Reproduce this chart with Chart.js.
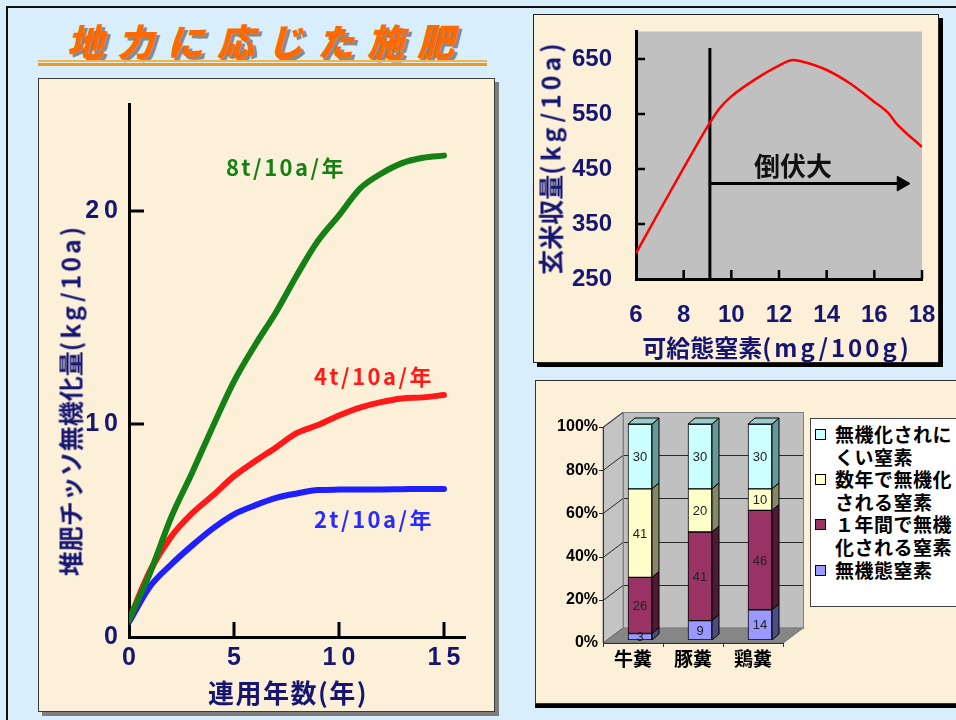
<!DOCTYPE html>
<html lang="ja">
<head>
<meta charset="utf-8">
<title>地力に応じた施肥</title>
<script src="https://cdn.jsdelivr.net/npm/chart.js@4.4.1/dist/chart.umd.min.js"></script>
<style>
  html, body { margin:0; padding:0; }
  body { width:956px; height:720px; overflow:hidden; position:relative; background:#d8eefb;
         font-family:"Noto Sans CJK JP", "Noto Sans", sans-serif; }
  .frame { position:absolute; left:6px; top:6px; width:990px; height:760px; border:2px solid #111; box-sizing:border-box; }
  .title { position:absolute; left:67px; top:16px; font-size:37px; line-height:48px; font-weight:900; font-style:italic;
           color:#ff6a00; letter-spacing:13px; text-shadow:3px 3px 0 #8a8a8a; white-space:nowrap; }
  .rule { position:absolute; left:38px; width:449px; }
  .panel { position:absolute; background:#fcf1d8; box-sizing:border-box; }
  #p1 { left:38px; top:78px; width:457px; height:634px; border:1px solid #3a3a3a; box-shadow:4px 4px 0 #7d7d7d; }
  #p2 { left:533px; top:14px; width:406px; height:349px; border:1px solid #222; box-shadow:4px 4px 0 #000; }
  #p3 { left:535px; top:380px; width:440px; height:324px; border:1px solid #333; box-shadow:0 4px 0 #000; }
  canvas { position:absolute; }
  .lbl { position:absolute; transform:translate(-50%,-50%); white-space:nowrap; font-weight:700; line-height:1; }
  .rot { transform:translate(-50%,-50%) rotate(-90deg); }
  .navy { color:#161672; }
  .sp { letter-spacing:3px; }
  #legend { position:absolute; left:810px; top:418px; width:170px; height:189px; box-sizing:border-box;
            background:#fff; border:1px solid #444; padding:4px 0 0 4px; }
  .item { display:flex; align-items:flex-start; }
  .sw { width:11px; height:11px; box-sizing:border-box; border:1px solid #000; margin-top:6px; margin-right:9px; flex:none; }
  .txt { width:121px; font-size:19px; line-height:22.6px; font-weight:700; letter-spacing:0.5px; color:#000; }
</style>
</head>
<body>
<div class="frame"></div>
<div class="title">地力に応じた施肥</div>
<div class="rule" style="top:60px;height:2px;background:#f6b443"></div>
<div class="rule" style="top:63px;height:3px;background:#f09a1c"></div>

<div class="panel" id="p1"></div>
<div class="panel" id="p2"></div>
<div class="panel" id="p3"></div>

<canvas id="c1" width="457" height="634" style="left:38px;top:78px"></canvas>
<canvas id="c2" width="406" height="349" style="left:533px;top:14px"></canvas>
<canvas id="c3" width="421" height="324" style="left:535px;top:380px"></canvas>

<!-- axis titles and in-plot labels -->
<div class="lbl navy rot" style="left:70px;top:400px;font-size:25px">堆肥チッソ無機化量<span class="sp">(kg/10a)</span></div>
<div class="lbl navy" style="left:288px;top:692px;font-size:26px;letter-spacing:1.5px">連用年数(年)</div>
<div class="lbl" style="left:286px;top:166px;font-size:22px;letter-spacing:2.5px;color:#158015">8t/10a/年</div>
<div class="lbl" style="left:374px;top:375px;font-size:22px;letter-spacing:2.5px;color:#ff1a1a">4t/10a/年</div>
<div class="lbl" style="left:374px;top:518px;font-size:22px;letter-spacing:2.5px;color:#2a2aff">2t/10a/年</div>

<div class="lbl navy rot" style="left:550px;top:157px;font-size:25px">玄米収量<span style="letter-spacing:4px">(kg/10a)</span></div>
<div class="lbl navy" style="left:777px;top:347px;font-size:24px">可給態窒素<span style="letter-spacing:3px">(mg/100g)</span></div>
<div class="lbl" style="left:793px;top:165px;font-size:26px;color:#111">倒伏大</div>

<div id="legend"></div>

<script>
const NAVY = '#161672';
const ARIAL = "'Liberation Sans', Arial, sans-serif";
const CJK = "'Noto Sans CJK JP', sans-serif";

// --- 堆肥チッソ無機化量 (kg/10a) vs 連用年数 ---
const years = [0, 1, 2, 3, 4, 5, 6, 7, 8, 9, 10, 11, 12, 13, 14, 15];
const min8t = [0.8, 3.0, 5.6, 7.7, 9.9, 12.0, 13.7, 15.25, 17.0, 18.6, 19.8, 21.05, 21.75, 22.25, 22.5, 22.6];
const min4t = [0.8, 3.1, 4.7, 5.8, 6.65, 7.55, 8.25, 8.9, 9.58, 9.95, 10.4, 10.77, 11.03, 11.2, 11.25, 11.36];
const min2t = [0.7, 2.37, 3.4, 4.29, 5.1, 5.76, 6.18, 6.53, 6.74, 6.9, 6.92, 6.93, 6.93, 6.94, 6.95, 6.95];
const yearTicks = [0, 5, 10, 15];
const minTicks = [0, 10, 20];

// --- 玄米収量 vs 可給態窒素 ---
const availN = [6, 7, 8, 8.5, 9, 9.5, 10, 11, 12, 12.6, 13, 14, 15, 16, 16.6, 16.9, 18];
const riceYield = [297, 375, 452, 490, 527, 560, 582, 613, 638, 648, 645, 630, 605, 572, 551, 534, 490];
const lodgingX = [9.1, 9.1];          // 倒伏の境界
const lodgingY = [250, 670];
const arrowX = [9.1, 17.14];
const arrowY = [423.5, 423.5];
const nTicks = [6, 8, 10, 12, 14, 16, 18];
const yieldTicks = [250, 350, 450, 550, 650];

// --- 窒素の形態別割合 (%) ---
const manures = ['牛糞', '豚糞', '鶏糞'];
const inorganicN = [3, 9, 14];
const firstYearN = [26, 41, 46];
const fewYearsN = [41, 20, 10];
const resistantN = [30, 30, 30];
const formLabels = ['無機態窒素', '１年間で無機化される窒素', '数年で無機化される窒素', '無機化されにくい窒素'];
const formColors = ['#9999ff', '#993366', '#ffffcc', '#ccffff'];
const formSides  = ['#4d4d80', '#4d1a33', '#868668', '#669999'];
const pctTicks = [0, 20, 40, 60, 80, 100];

const pts = (xs, ys) => xs.map((x, i) => ({ x, y: ys[i] }));
const spaced = v => String(v).split('').join('\u2009');
const fixTicks = vals => s => { s.ticks = vals.map(v => ({ value: v })); };
const fitY = w => s => { s.width = w; s.paddingTop = 0; s.paddingBottom = 0; };
const fitX = h => s => { s.height = h; s.paddingLeft = 0; s.paddingRight = 0; };

// tick marks pointing into the plot area
const innerTicks = {
  id: 'innerTicks',
  beforeDatasetsDraw(chart, args, o) {
    const { ctx, chartArea: a, scales } = chart;
    ctx.save();
    ctx.strokeStyle = '#000';
    ctx.lineWidth = o.width;
    ctx.beginPath();
    o.x.forEach(v => { const px = scales.x.getPixelForValue(v); ctx.moveTo(px, a.bottom); ctx.lineTo(px, a.bottom - o.length); });
    o.y.forEach(v => { const py = scales.y.getPixelForValue(v); ctx.moveTo(a.left, py); ctx.lineTo(a.left + o.length, py); });
    ctx.stroke();
    ctx.restore();
  }
};

const plotBg = {
  id: 'plotBg',
  beforeDraw(chart, args, o) {
    const { ctx, chartArea: a } = chart;
    ctx.save();
    ctx.fillStyle = o.color;
    ctx.fillRect(a.left, a.top, a.right - a.left, a.bottom - a.top);
    ctx.restore();
  }
};

const common = {
  responsive: false,
  animation: false,
  plugins: { legend: { display: false }, tooltip: { enabled: false } }
};

new Chart(document.getElementById('c1'), {
  type: 'line',
  data: {
    datasets: [
      { data: pts(years, min8t), borderColor: '#158015' },
      { data: pts(years, min4t), borderColor: '#ff1a1a' },
      { data: pts(years, min2t), borderColor: '#1f1fff' }
    ].map(d => Object.assign(d, { borderWidth: 6, pointRadius: 0, cubicInterpolationMode: 'monotone', borderCapStyle: 'round' }))
  },
  options: Object.assign({}, common, {
    layout: { padding: { left: 0, top: 26.5, right: 30, bottom: 0 } },
    scales: {
      x: {
        type: 'linear', min: 0, max: 16,
        afterBuildTicks: fixTicks(yearTicks), afterFit: fitX(75),
        grid: { drawOnChartArea: false, drawTicks: false },
        border: { color: '#000', width: 3 },
        ticks: { font: { family: ARIAL, size: 25, weight: 'bold' }, color: NAVY, padding: 6, callback: spaced, maxRotation: 0, autoSkip: false }
      },
      y: {
        type: 'linear', min: 0, max: 25,
        afterBuildTicks: fixTicks(minTicks), afterFit: fitY(91),
        grid: { drawOnChartArea: false, drawTicks: false },
        border: { color: '#000', width: 3 },
        ticks: { font: { family: ARIAL, size: 25, weight: 'bold' }, color: NAVY, padding: 11, callback: spaced }
      }
    },
    plugins: Object.assign({}, common.plugins, { innerTicks: { x: [5, 10, 15], y: [10, 20], length: 15, width: 3 } })
  }),
  plugins: [innerTicks]
});

new Chart(document.getElementById('c2'), {
  type: 'line',
  data: {
    datasets: [
      { data: pts(availN, riceYield), borderColor: '#ff0000', borderWidth: 2.5, pointRadius: 0, cubicInterpolationMode: 'monotone' },
      { data: pts(lodgingX, lodgingY), borderColor: '#000', borderWidth: 3, pointRadius: 0 },
      { data: pts(arrowX, arrowY), borderColor: '#000', borderWidth: 3, pointRadius: [0, 8.5],
        pointStyle: 'triangle', pointRotation: 90, pointBackgroundColor: '#000', pointBorderWidth: 1 }
    ]
  },
  options: Object.assign({}, common, {
    layout: { padding: { left: 0, top: 17.5, right: 17, bottom: 0 } },
    scales: {
      x: {
        type: 'linear', min: 6, max: 18,
        afterBuildTicks: fixTicks(nTicks), afterFit: fitX(84),
        grid: { drawOnChartArea: false, drawTicks: false },
        border: { color: '#000', width: 3 },
        ticks: { font: { family: ARIAL, size: 24, weight: 'bold' }, color: NAVY, padding: 22, maxRotation: 0, autoSkip: false }
      },
      y: {
        type: 'linear', min: 250, max: 700,
        afterBuildTicks: fixTicks(yieldTicks), afterFit: fitY(103),
        grid: { drawOnChartArea: false, drawTicks: false },
        border: { color: '#000', width: 3 },
        ticks: { font: { family: ARIAL, size: 24, weight: 'bold' }, color: NAVY, padding: 24 }
      }
    },
    plugins: Object.assign({}, common.plugins, {
      plotBg: { color: '#c0c0c0' },
      innerTicks: { x: [8, 10, 12, 14, 16, 18], y: [350, 450, 550, 650], length: 9, width: 2.5 }
    })
  }),
  plugins: [plotBg, innerTicks]
});

// pseudo-3D stacked columns: walls and floor, then side/top faces of each bar
function poly(ctx, p, fill, stroke) {
  ctx.beginPath();
  ctx.moveTo(p[0][0], p[0][1]);
  for (let i = 1; i < p.length; i++) ctx.lineTo(p[i][0], p[i][1]);
  ctx.closePath();
  ctx.fillStyle = fill; ctx.fill();
  if (stroke) { ctx.strokeStyle = stroke; ctx.stroke(); }
}

const BOX_DX = 20, BOX_DY = -15;   // depth of the walls
const BAR_DX = 7, BAR_DY = -6;     // depth of each column
const box3d = {
  id: 'box3d',
  beforeDatasetsDraw(chart) {
    const { ctx, chartArea: { left: L, right: R, top: T, bottom: B }, scales: { y } } = chart;
    const dx = BOX_DX, dy = BOX_DY;
    ctx.save();
    ctx.lineWidth = 1;
    ctx.fillStyle = '#c0c0c0';
    ctx.fillRect(L + dx, T + dy, R - L, B - T);
    poly(ctx, [[L, T], [L + dx, T + dy], [L + dx, B + dy], [L, B]], '#c4c4c4', '#8a8a8a');
    poly(ctx, [[L, B], [L + dx, B + dy], [R + dx, B + dy], [R, B]], '#868686', '#6a6a6a');
    ctx.strokeStyle = '#2a2a2a';
    ctx.beginPath();
    pctTicks.slice(1).forEach(v => {
      const py = Math.round(y.getPixelForValue(v)) + 0.5;
      ctx.moveTo(L, py); ctx.lineTo(L + dx, py + dy); ctx.lineTo(R + dx, py + dy);
      ctx.moveTo(L - 4, py); ctx.lineTo(L, py);
    });
    ctx.stroke();
    ctx.strokeStyle = '#808080';
    ctx.strokeRect(L + dx + 0.5, T + dy + 0.5, R - L, B - T);
    ctx.beginPath();
    ctx.moveTo(R, B); ctx.lineTo(R + dx, B + dy);
    ctx.stroke();
    // front axis and floor edge with category separators
    ctx.strokeStyle = '#333';
    ctx.beginPath();
    ctx.moveTo(L + 0.5, T); ctx.lineTo(L + 0.5, B + 0.5); ctx.lineTo(R, B + 0.5);
    const step = (R - L) / manures.length;
    for (let i = 0; i <= manures.length; i++) { const px = Math.round(L + i * step) + 0.5; ctx.moveTo(px, B); ctx.lineTo(px, B + 4); }
    ctx.stroke();
    ctx.restore();
    ctx.save();
    ctx.translate(BAR_DX, 3 + BAR_DY);   // columns stand a little behind the front edge
  },
  afterDatasetsDraw(chart) {
    const { ctx } = chart;
    const n = chart.data.datasets.length;
    ctx.lineWidth = 1;
    chart.data.datasets.forEach((ds, di) => {
      chart.getDatasetMeta(di).data.forEach((bar, i) => {
        const { x, y, base, width } = bar.getProps(['x', 'y', 'base', 'width'], true);
        const xl = x - width / 2, xr = x + width / 2;
        poly(ctx, [[xr, y], [xr + BAR_DX, y + BAR_DY], [xr + BAR_DX, base + BAR_DY], [xr, base]], formSides[di], '#000');
        if (di === n - 1) poly(ctx, [[xl, y], [xl + BAR_DX, y + BAR_DY], [xr + BAR_DX, y + BAR_DY], [xr, y]], '#99cccc', '#000');
      });
    });
    ctx.font = '13px ' + ARIAL;
    ctx.fillStyle = '#222';
    ctx.textAlign = 'center';
    ctx.textBaseline = 'middle';
    chart.data.datasets.forEach((ds, di) => {
      chart.getDatasetMeta(di).data.forEach((bar, i) => {
        const { x, y, base } = bar.getProps(['x', 'y', 'base'], true);
        ctx.fillText(ds.data[i], x, (y + base) / 2 + 1);
      });
    });
    ctx.restore();
  }
};

const formSeries = [inorganicN, firstYearN, fewYearsN, resistantN];
new Chart(document.getElementById('c3'), {
  type: 'bar',
  data: {
    labels: manures,
    datasets: formSeries.map((vals, i) => ({
      label: formLabels[i], data: vals, backgroundColor: formColors[i],
      borderColor: '#000', borderWidth: 1, borderSkipped: false, barThickness: 24
    }))
  },
  options: Object.assign({}, common, {
    layout: { padding: { left: 0, top: 47, right: 173, bottom: 0 } },
    scales: {
      x: {
        stacked: true, afterFit: fitX(61),
        grid: { display: false, drawTicks: false }, border: { display: false },
        ticks: { font: { family: CJK, size: 19, weight: 'bold' }, color: '#000', padding: 4 }
      },
      y: {
        stacked: true, min: 0, max: 100,
        afterBuildTicks: fixTicks(pctTicks), afterFit: fitY(68),
        grid: { display: false, drawTicks: false }, border: { display: false },
        ticks: { font: { family: ARIAL, size: 16, weight: 'bold' }, color: '#000', padding: 5, callback: v => v + '%' }
      }
    }
  }),
  plugins: [box3d]
});

// legend, top series first
const legend = document.getElementById('legend');
for (let i = formLabels.length - 1; i >= 0; i--) {
  const item = document.createElement('div');
  item.className = 'item';
  item.innerHTML = `<span class="sw" style="background:${formColors[i]}"></span><span class="txt">${formLabels[i]}</span>`;
  legend.appendChild(item);
}
</script>
</body>
</html>
